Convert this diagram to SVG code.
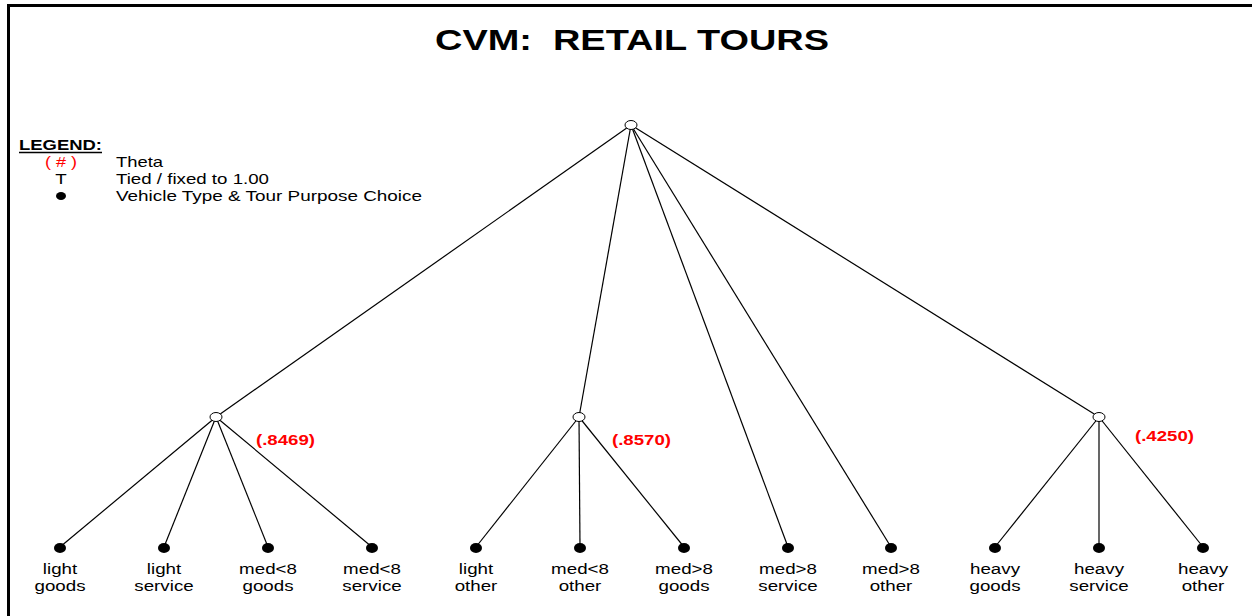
<svg xmlns="http://www.w3.org/2000/svg" width="1252" height="616" viewBox="0 0 1252 616">
<style>
.t{font-family:"Liberation Sans",Arial,sans-serif;font-size:15px;fill:#000}
.lab{font-family:"Liberation Sans",Arial,sans-serif;font-size:15px;fill:#000;text-anchor:middle}
.th{font-family:"Liberation Sans",Arial,sans-serif;font-size:15px;font-weight:bold;fill:#ff0000}
.open{fill:#fff;stroke:#000;stroke-width:1}
.leaf{fill:#000}
.edge{stroke:#000;stroke-width:1.2;fill:none}
</style>
<rect width="1252" height="616" fill="#fff"/>
<path d="M8.5,616 V5.5 H1252" fill="none" stroke="#000" stroke-width="3"/>
<text x="632" y="50" text-anchor="middle" textLength="394" lengthAdjust="spacingAndGlyphs" style="font-family:'Liberation Sans',Arial,sans-serif;font-size:30px;font-weight:bold" xml:space="preserve">CVM:  RETAIL TOURS</text>
<g id="legend">
<text x="19" y="150" class="t" textLength="83" lengthAdjust="spacingAndGlyphs" style="font-weight:bold">LEGEND:</text>
<line x1="19" y1="152.5" x2="102" y2="152.5" stroke="#000" stroke-width="1.3"/>
<text x="45" y="167" class="t" textLength="32" lengthAdjust="spacingAndGlyphs" style="fill:#ff0000" xml:space="preserve">( # )</text>
<text x="116" y="167" class="t" textLength="47" lengthAdjust="spacingAndGlyphs">Theta</text>
<text transform="translate(61 0) scale(1.25 1)" x="0" y="184" class="lab">T</text>
<text x="116" y="184" class="t" textLength="153" lengthAdjust="spacingAndGlyphs">Tied / fixed to 1.00</text>
<ellipse cx="61" cy="196" rx="5" ry="4" class="leaf"/>
<text x="116" y="201" class="t" textLength="306" lengthAdjust="spacingAndGlyphs">Vehicle Type &amp; Tour Purpose Choice</text>
</g>
<g id="connectors">
<line class="edge" x1="631" y1="125" x2="216" y2="417"/>
<line class="edge" x1="631" y1="125" x2="579" y2="417"/>
<line class="edge" x1="631" y1="125" x2="788" y2="547"/>
<line class="edge" x1="631" y1="125" x2="891" y2="547"/>
<line class="edge" x1="631" y1="125" x2="1099" y2="417"/>
<line class="edge" x1="216" y1="417" x2="60" y2="547"/>
<line class="edge" x1="216" y1="417" x2="164" y2="547"/>
<line class="edge" x1="216" y1="417" x2="268" y2="547"/>
<line class="edge" x1="216" y1="417" x2="372" y2="547"/>
<line class="edge" x1="579" y1="417" x2="476" y2="547"/>
<line class="edge" x1="579" y1="417" x2="580" y2="547"/>
<line class="edge" x1="579" y1="417" x2="684" y2="547"/>
<line class="edge" x1="1099" y1="417" x2="995" y2="547"/>
<line class="edge" x1="1099" y1="417" x2="1099" y2="547"/>
<line class="edge" x1="1099" y1="417" x2="1203" y2="547"/>
</g>
<g id="root"><ellipse cx="631" cy="125" rx="6" ry="4.5" class="open"/></g>
<g id="nest-1"><ellipse cx="216" cy="417" rx="6" ry="4.5" class="open"/><text x="256" y="445" class="th" textLength="59" lengthAdjust="spacingAndGlyphs">(.8469)</text></g>
<g id="nest-2"><ellipse cx="579" cy="417" rx="6" ry="4.5" class="open"/><text x="612" y="445" class="th" textLength="59" lengthAdjust="spacingAndGlyphs">(.8570)</text></g>
<g id="nest-3"><ellipse cx="1099" cy="417" rx="6" ry="4.5" class="open"/><text x="1135" y="441" class="th" textLength="59" lengthAdjust="spacingAndGlyphs">(.4250)</text></g>
<g id="leaf-1"><ellipse cx="60" cy="548" rx="6" ry="5" class="leaf"/><g transform="translate(60 0) scale(1.25 1)"><text x="0" y="574" class="lab">light</text><text x="0" y="591" class="lab">goods</text></g></g>
<g id="leaf-2"><ellipse cx="164" cy="548" rx="6" ry="5" class="leaf"/><g transform="translate(164 0) scale(1.25 1)"><text x="0" y="574" class="lab">light</text><text x="0" y="591" class="lab">service</text></g></g>
<g id="leaf-3"><ellipse cx="268" cy="548" rx="6" ry="5" class="leaf"/><g transform="translate(268 0) scale(1.25 1)"><text x="0" y="574" class="lab">med&lt;8</text><text x="0" y="591" class="lab">goods</text></g></g>
<g id="leaf-4"><ellipse cx="372" cy="548" rx="6" ry="5" class="leaf"/><g transform="translate(372 0) scale(1.25 1)"><text x="0" y="574" class="lab">med&lt;8</text><text x="0" y="591" class="lab">service</text></g></g>
<g id="leaf-5"><ellipse cx="476" cy="548" rx="6" ry="5" class="leaf"/><g transform="translate(476 0) scale(1.25 1)"><text x="0" y="574" class="lab">light</text><text x="0" y="591" class="lab">other</text></g></g>
<g id="leaf-6"><ellipse cx="580" cy="548" rx="6" ry="5" class="leaf"/><g transform="translate(580 0) scale(1.25 1)"><text x="0" y="574" class="lab">med&lt;8</text><text x="0" y="591" class="lab">other</text></g></g>
<g id="leaf-7"><ellipse cx="684" cy="548" rx="6" ry="5" class="leaf"/><g transform="translate(684 0) scale(1.25 1)"><text x="0" y="574" class="lab">med&gt;8</text><text x="0" y="591" class="lab">goods</text></g></g>
<g id="leaf-8"><ellipse cx="788" cy="548" rx="6" ry="5" class="leaf"/><g transform="translate(788 0) scale(1.25 1)"><text x="0" y="574" class="lab">med&gt;8</text><text x="0" y="591" class="lab">service</text></g></g>
<g id="leaf-9"><ellipse cx="891" cy="548" rx="6" ry="5" class="leaf"/><g transform="translate(891 0) scale(1.25 1)"><text x="0" y="574" class="lab">med&gt;8</text><text x="0" y="591" class="lab">other</text></g></g>
<g id="leaf-10"><ellipse cx="995" cy="548" rx="6" ry="5" class="leaf"/><g transform="translate(995 0) scale(1.25 1)"><text x="0" y="574" class="lab">heavy</text><text x="0" y="591" class="lab">goods</text></g></g>
<g id="leaf-11"><ellipse cx="1099" cy="548" rx="6" ry="5" class="leaf"/><g transform="translate(1099 0) scale(1.25 1)"><text x="0" y="574" class="lab">heavy</text><text x="0" y="591" class="lab">service</text></g></g>
<g id="leaf-12"><ellipse cx="1203" cy="548" rx="6" ry="5" class="leaf"/><g transform="translate(1203 0) scale(1.25 1)"><text x="0" y="574" class="lab">heavy</text><text x="0" y="591" class="lab">other</text></g></g>
</svg>
